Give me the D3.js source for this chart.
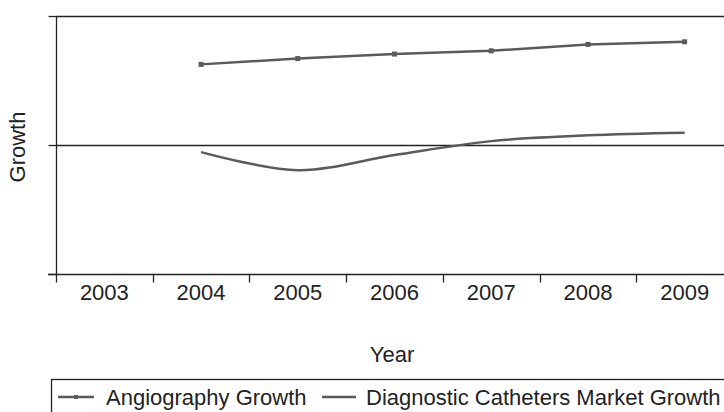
<!DOCTYPE html>
<html><head><meta charset="utf-8">
<script src="https://cdn.jsdelivr.net/npm/d3@7"></script>
<style>
html,body{margin:0;padding:0;background:#fff;}
svg{display:block;font-family:"Liberation Sans",Arial,Helvetica,sans-serif;}
</style></head>
<body>
<svg id="c" width="724" height="412"></svg>
<script>
const years = ["2003","2004","2005","2006","2007","2008","2009"];
const seriesYears = ["2004","2005","2006","2007","2008","2009"];
const angiographyGrowth = [12.5, 13.4, 14.1, 14.6, 15.6, 16.0];
const diagnosticCathetersGrowth = [-1.1, -3.9, -1.55, 0.6, 1.5, 1.9];
const yTicks = [-20, 0, 20];
const seriesNames = ["Angiography Growth", "Diagnostic Catheters Market Growth"];

const svg = d3.select("#c");
const L = 56, R = 733, T = 16, B = 274;
const x = d3.scaleBand().domain(years).range([L, R]);
const y = d3.scaleLinear().domain([-20, 20]).range([B, T]);
const cx = d => x(d) + x.bandwidth() / 2;
const axisColor = "#222";
const lineColor = "#5a5a5a";
const fs = 22;

// top border
svg.append("line").attr("x1", L).attr("x2", 724).attr("y1", T + 0.5).attr("y2", T + 0.5)
  .attr("stroke", axisColor).attr("stroke-width", 1.3);

// zero line
svg.append("line").attr("x1", L).attr("x2", 724).attr("y1", Math.round(y(0)) + 0.5).attr("y2", Math.round(y(0)) + 0.5)
  .attr("stroke", axisColor).attr("stroke-width", 1.3);

// y axis
const yAxis = d3.axisLeft(y).tickValues(yTicks).tickSize(8).tickFormat("");
const gy = svg.append("g").attr("transform", `translate(${L + 0.5},0)`).call(yAxis);
gy.selectAll("path,line").attr("stroke", axisColor).attr("stroke-width", 1.3);
gy.select(".domain").attr("d", `M0,${T}V${B}`);

// x axis
const xAxis = d3.axisBottom(x).tickSize(0).tickPadding(10);
const gx = svg.append("g").attr("transform", `translate(0,${B + 0.5})`).call(xAxis);
gx.select(".domain").attr("d", `M${L - 8},0H724`).attr("stroke", axisColor).attr("stroke-width", 1.3);
gx.selectAll("text").attr("font-size", fs).attr("fill", "#222").attr("font-family", "Liberation Sans, Arial, sans-serif");
// boundary ticks
const bounds = years.map(d => x(d));
gx.selectAll("line.bt").data(bounds).enter().append("line").attr("class", "bt")
  .attr("x1", d => Math.round(d) + 0.5).attr("x2", d => Math.round(d) + 0.5)
  .attr("y1", 0).attr("y2", 8).attr("stroke", axisColor).attr("stroke-width", 1.3);

// axis titles
svg.append("text").attr("x", 392).attr("y", 362).attr("text-anchor", "middle")
  .attr("font-size", fs).attr("fill", "#222").text("Year");
svg.append("text").attr("transform", `translate(25,147) rotate(-90)`).attr("text-anchor", "middle")
  .attr("font-size", fs).attr("fill", "#222").text("Growth");

// series lines
const line = d3.line().x((d, i) => cx(seriesYears[i])).y(d => y(d));
svg.append("path").datum(angiographyGrowth).attr("d", line)
  .attr("fill", "none").attr("stroke", lineColor).attr("stroke-width", 2.5);
svg.selectAll("rect.m").data(angiographyGrowth).enter().append("rect").attr("class", "m")
  .attr("x", (d, i) => cx(seriesYears[i]) - 2.5).attr("y", d => y(d) - 2.5)
  .attr("width", 5).attr("height", 5).attr("fill", lineColor);

const curve = d3.line().x((d, i) => cx(seriesYears[i])).y(d => y(d)).curve(d3.curveCatmullRom.alpha(0.5));
svg.append("path").datum(diagnosticCathetersGrowth).attr("d", curve)
  .attr("fill", "none").attr("stroke", lineColor).attr("stroke-width", 2.5);

// legend
svg.append("rect").attr("x", 51.5).attr("y", 379.5).attr("width", 700).attr("height", 60)
  .attr("fill", "none").attr("stroke", axisColor).attr("stroke-width", 1.3);
const lg = svg.append("g");
lg.append("line").attr("x1", 58).attr("x2", 94).attr("y1", 397).attr("y2", 397)
  .attr("stroke", lineColor).attr("stroke-width", 2.5);
lg.append("rect").attr("x", 74).attr("y", 395).attr("width", 4).attr("height", 4).attr("fill", lineColor);
lg.append("text").attr("x", 106).attr("y", 405).attr("font-size", fs).attr("fill", "#222").text(seriesNames[0]);
lg.append("line").attr("x1", 322).attr("x2", 356).attr("y1", 397).attr("y2", 397)
  .attr("stroke", lineColor).attr("stroke-width", 2.5);
lg.append("text").attr("x", 366).attr("y", 405).attr("font-size", fs).attr("fill", "#222").text(seriesNames[1]);
</script>
</body></html>
